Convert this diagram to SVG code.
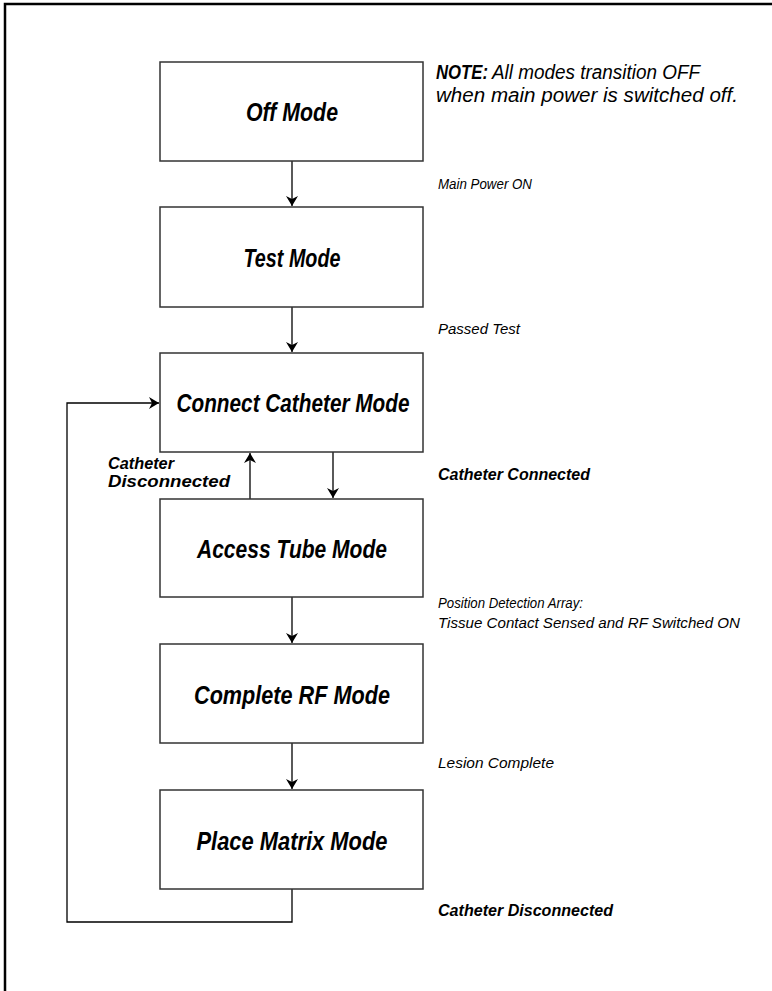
<svg xmlns="http://www.w3.org/2000/svg" width="772" height="991" viewBox="0 0 772 991">
<defs>
<marker id="ah" viewBox="0 0 10 12" refX="10" refY="6" markerWidth="10" markerHeight="12" markerUnits="userSpaceOnUse" orient="auto">
<path d="M0,0 L10,6 L0,12 L3,6 z" fill="#000"/>
</marker>
<style>
.box{fill:#fff;stroke:#333;stroke-width:1.5}
.lbl{font-family:"Liberation Sans",Arial,sans-serif;font-weight:bold;font-style:italic;font-size:25px;fill:#000;text-anchor:middle}
.ann{font-family:"Liberation Sans",Arial,sans-serif;font-style:italic;font-size:15px;fill:#000}
.annb{font-family:"Liberation Sans",Arial,sans-serif;font-style:italic;font-weight:bold;font-size:16px;fill:#000}
.note{font-family:"Liberation Sans",Arial,sans-serif;font-style:italic;font-size:20px;fill:#000}
.conn{fill:none;stroke:#000;stroke-width:1.3}
</style>
</defs>
<rect width="772" height="991" fill="#fff"/>
<path d="M5,995 L5,4 L775,4" fill="none" stroke="#000" stroke-width="2.5"/>

<g id="connectors">
<line class="conn" x1="292" y1="161" x2="292" y2="206" marker-end="url(#ah)"/>
<line class="conn" x1="292" y1="307" x2="292" y2="352" marker-end="url(#ah)"/>
<line class="conn" x1="333" y1="452" x2="333" y2="498" marker-end="url(#ah)"/>
<line class="conn" x1="250" y1="499" x2="250" y2="453" marker-end="url(#ah)"/>
<line class="conn" x1="292" y1="597" x2="292" y2="643" marker-end="url(#ah)"/>
<line class="conn" x1="292" y1="743" x2="292" y2="789" marker-end="url(#ah)"/>
<polyline class="conn" points="292,889 292,922 67,922 67,403 159,403" marker-end="url(#ah)"/>
</g>

<g id="off-mode"><rect class="box" x="160" y="62" width="263" height="99"/><text class="lbl" x="292" y="121" textLength="92" lengthAdjust="spacingAndGlyphs">Off Mode</text></g>
<g id="test-mode"><rect class="box" x="160" y="207" width="263" height="100"/><text class="lbl" x="292" y="267" textLength="97" lengthAdjust="spacingAndGlyphs">Test Mode</text></g>
<g id="connect-catheter-mode"><rect class="box" x="160" y="353" width="263" height="99"/><text class="lbl" x="293" y="412" textLength="233" lengthAdjust="spacingAndGlyphs">Connect Catheter Mode</text></g>
<g id="access-tube-mode"><rect class="box" x="160" y="499" width="263" height="98"/><text class="lbl" x="292" y="558" textLength="190" lengthAdjust="spacingAndGlyphs">Access Tube Mode</text></g>
<g id="complete-rf-mode"><rect class="box" x="160" y="644" width="263" height="99"/><text class="lbl" x="292" y="704" textLength="196" lengthAdjust="spacingAndGlyphs">Complete RF Mode</text></g>
<g id="place-matrix-mode"><rect class="box" x="160" y="790" width="263" height="99"/><text class="lbl" x="292" y="850" textLength="191" lengthAdjust="spacingAndGlyphs">Place Matrix Mode</text></g>

<g id="labels">
<text class="note" x="436" y="79" font-weight="bold" textLength="52" lengthAdjust="spacingAndGlyphs">NOTE:</text>
<text class="note" x="492" y="79" textLength="208" lengthAdjust="spacingAndGlyphs">All modes transition OFF</text>
<text class="note" x="436" y="102" textLength="302" lengthAdjust="spacingAndGlyphs">when main power is switched off.</text>
<text class="ann" x="438" y="189" textLength="94" lengthAdjust="spacingAndGlyphs">Main Power ON</text>
<text class="ann" x="438" y="334" textLength="82" lengthAdjust="spacingAndGlyphs">Passed Test</text>
<text class="annb" x="438" y="480" textLength="152" lengthAdjust="spacingAndGlyphs">Catheter Connected</text>
<text class="annb" x="108" y="469" textLength="66" lengthAdjust="spacingAndGlyphs">Catheter</text>
<text class="annb" x="108" y="487" textLength="122" lengthAdjust="spacingAndGlyphs">Disconnected</text>
<text class="ann" x="438" y="608" textLength="145" lengthAdjust="spacingAndGlyphs">Position Detection Array:</text>
<text class="ann" x="438" y="628" textLength="302" lengthAdjust="spacingAndGlyphs">Tissue Contact Sensed and RF Switched ON</text>
<text class="ann" x="438" y="768" textLength="116" lengthAdjust="spacingAndGlyphs">Lesion Complete</text>
<text class="annb" x="438" y="916" textLength="175" lengthAdjust="spacingAndGlyphs">Catheter Disconnected</text>
</g>
</svg>
